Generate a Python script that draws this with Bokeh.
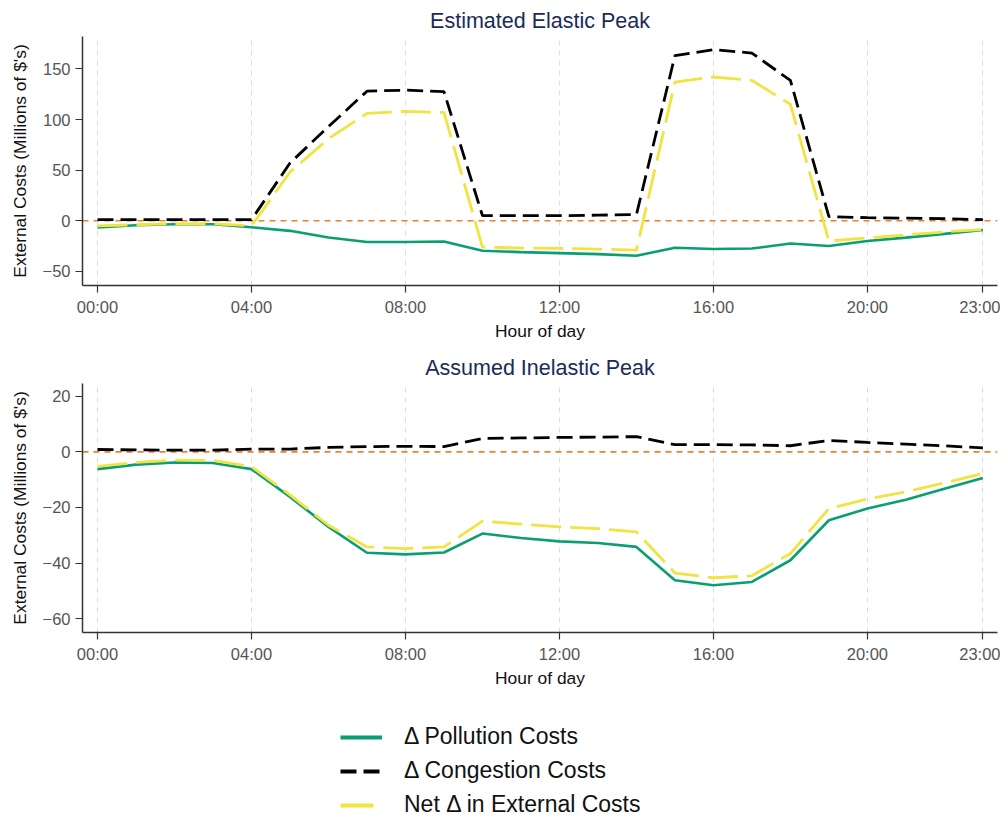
from bokeh.plotting import figure
from bokeh.models import Range1d, FixedTicker, Span, Legend, LegendItem
from bokeh.layouts import column
from bokeh.embed import file_html
from bokeh.resources import INLINE

hours = list(range(24))
hour_ticks = [0, 4, 8, 12, 16, 20, 23]
hour_labels = ["00:00", "04:00", "08:00", "12:00", "16:00", "20:00", "23:00"]

# Estimated Elastic Peak
elastic_pollution = [-6.6, -4.5, -3.5, -3.5, -6.5, -10, -16.5, -21, -21, -20.5,
                     -29.7, -31, -32, -33, -34.6, -26.7, -28, -27.5, -22.5, -25,
                     -20, -16.7, -13, -9.2]
elastic_congestion = [1, 1, 1, 1, 1, 57, 93, 128, 129, 127.5,
                      5, 5, 5, 5.5, 6, 163, 169, 165.6, 138.6, 4,
                      3, 2.5, 2, 1]
elastic_net = [-5, -4, -3, -3, -5, 48, 81, 106, 108, 107,
               -26, -27, -27.4, -28, -29, 137, 142, 138.6, 115, -20,
               -17, -14, -11, -8.6]

# Assumed Inelastic Peak
inelastic_pollution = [-6.2, -4.6, -3.8, -4, -6.2, -16.2, -27, -36.3, -36.9, -36.2,
                       -29.4, -31, -32.2, -32.8, -34.2, -46.2, -48, -46.8, -39, -24.6,
                       -20.4, -17.2, -13.3, -9.4]
inelastic_congestion = [0.85, 0.7, 0.6, 0.6, 1, 1, 1.6, 1.9, 2, 1.9,
                        4.8, 5, 5.2, 5.3, 5.5, 2.6, 2.6, 2.5, 2.2, 4.1,
                        3.4, 2.8, 2.2, 1.4]
inelastic_net = [-5.2, -3.8, -3, -3.1, -5.3, -15.5, -26.4, -34.2, -34.8, -34.2,
                 -24.9, -26, -27, -27.6, -28.8, -43.6, -45.3, -44.6, -36.6, -20.4,
                 -17, -14.4, -11.2, -7.8]

legend_labels = ["\u0394 Pollution Costs", "\u0394 Congestion Costs", "Net \u0394 in External Costs"]

GREEN = "#0a9e73"
BLACK = "#000000"
YELLOW = "#f0e442"
ORANGE = "#f07f2e"
FONT = "Liberation Sans"


def make_panel(title, pol, cong, net, yr, yticks, height, top, bottom):
    p = figure(width=1000, height=height, x_range=Range1d(-0.39, 23.38), y_range=Range1d(*yr),
               output_backend="svg", toolbar_location=None, title=title,
               min_border_left=82, min_border_right=3, min_border_top=top, min_border_bottom=bottom)
    p.outline_line_color = None
    p.title.align = "center"
    p.title.text_font = FONT
    p.title.text_font_size = "21.5px"
    p.title.text_font_style = "normal"
    p.title.text_color = "#1c2b5a"
    p.title.standoff = 8

    p.xaxis.ticker = FixedTicker(ticks=hour_ticks)
    p.xaxis.major_label_overrides = {t: l for t, l in zip(hour_ticks, hour_labels)}
    p.yaxis.ticker = FixedTicker(ticks=yticks)
    p.xaxis.axis_label = "Hour of day"
    p.yaxis.axis_label = "External Costs (Millions of $'s)"
    for ax in (p.xaxis, p.yaxis):
        ax.axis_label_text_font = FONT
        ax.axis_label_text_font_size = "17.4px"
        ax.axis_label_text_font_style = "normal"
        ax.axis_label_text_color = "#111111"
        ax.major_label_text_font = FONT
        ax.major_label_text_font_size = "16.5px"
        ax.major_label_text_color = "#555555"
        ax.axis_line_color = "#333333"
        ax.axis_line_width = 1.5
        ax.major_tick_line_color = "#333333"
        ax.major_tick_line_width = 1.2
        ax.major_tick_out = 7
        ax.major_tick_in = 0
        ax.minor_tick_line_color = None
        ax.major_label_standoff = 5
    p.xaxis.axis_label_standoff = 2
    p.yaxis.axis_label_standoff = 10

    p.ygrid.grid_line_color = None
    p.xgrid.ticker = FixedTicker(ticks=hour_ticks)
    p.xgrid.grid_line_color = "#dcdcdc"
    p.xgrid.grid_line_dash = "5 5"
    p.xgrid.grid_line_width = 1

    zero = Span(location=0, dimension="width", line_color=ORANGE, line_dash="6 5",
                line_width=1.6, level="underlay")
    p.add_layout(zero)

    p.line(hours, pol, line_color=GREEN, line_width=2.6)
    p.line(hours, cong, line_color=BLACK, line_width=2.8, line_dash="16 7")
    p.line(hours, net, line_color=YELLOW, line_width=2.8, line_dash="30 9")
    return p


p1 = make_panel("Estimated Elastic Peak", elastic_pollution, elastic_congestion, elastic_net,
                (-64, 182), [-50, 0, 50, 100, 150], 345, 36, 60)
p2 = make_panel("Assumed Inelastic Peak", inelastic_pollution, inelastic_congestion, inelastic_net,
                (-65, 24.6), [-60, -40, -20, 0, 20], 347, 38, 60)

p3 = figure(width=1000, height=127, x_range=Range1d(0, 1), y_range=Range1d(0, 1),
            output_backend="svg", toolbar_location=None, min_border=0,
            x_axis_type=None, y_axis_type=None)
p3.outline_line_color = None
p3.xgrid.grid_line_color = None
p3.ygrid.grid_line_color = None
# legend sample renderers kept outside the visible range
r1 = p3.line([5, 6], [5, 5], line_color=GREEN, line_width=4)
r2 = p3.line([5, 6], [5, 5], line_color=BLACK, line_width=4, line_dash="16 7")
r3 = p3.line([5, 6], [5, 5], line_color=YELLOW, line_width=4, line_dash="33 9")
leg = Legend(items=[LegendItem(label=legend_labels[0], renderers=[r1]),
                    LegendItem(label=legend_labels[1], renderers=[r2]),
                    LegendItem(label=legend_labels[2], renderers=[r3])],
             location=(258, 1), orientation="vertical")
leg.label_text_font = FONT
leg.label_text_font_size = "23px"
leg.label_text_color = "#111111"
leg.glyph_width = 42
leg.glyph_height = 24
leg.label_standoff = 22
leg.spacing = 7
leg.padding = 0
leg.margin = 0
leg.border_line_color = None
leg.background_fill_alpha = 0
p3.add_layout(leg)

layout = column(p1, p2, p3, spacing=0)
open("out.html", "w").write(file_html(layout, INLINE))
